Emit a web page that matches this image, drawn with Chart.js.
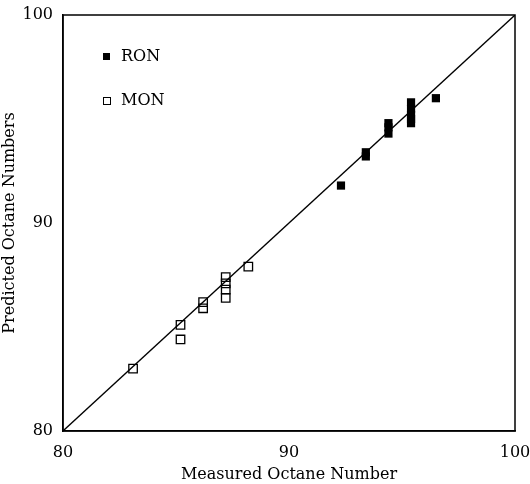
<!DOCTYPE html>
<html>
<head>
<meta charset="utf-8">
<script src="https://cdn.jsdelivr.net/npm/chart.js@4"></script>
<style>
body{margin:0;background:#fff;}
#wrap{width:530px;height:484px;}
</style>
</head>
<body>
<div id="wrap"><canvas id="octaneChart" width="530" height="484"></canvas></div>
<script>
// measured vs predicted octane numbers
let ronMeasured = [92.3, 93.4, 93.4, 94.4, 94.4, 94.4, 95.4, 95.4, 95.4, 95.4, 95.4, 96.5];
let ronPredicted = [91.8, 93.2, 93.4, 94.3, 94.6, 94.8, 94.8, 95.0, 95.2, 95.5, 95.8, 96.0];
let monMeasured = [83.1, 85.2, 85.2, 86.2, 86.2, 87.2, 87.2, 87.2, 87.2, 88.2];
let monPredicted = [83.0, 84.4, 85.1, 85.9, 86.2, 86.4, 86.8, 87.1, 87.4, 87.9];
let diagonal = [80, 100];
let tickValues = [80, 90, 100];

function toPoints(xs, ys){
let pts = [];
for(let i = 0; i < xs.length; i++){
pts.push({x:xs[i], y:ys[i]});
}
return pts;
}

const serif = "'DejaVu Serif', 'Liberation Serif', serif";

const frame = {
id:'frame',
afterDraw(chart){
let a = chart.chartArea;
let ctx = chart.ctx;
ctx.save();
ctx.strokeStyle = '#000';
ctx.lineWidth = 1.5;
ctx.strokeRect(a.left, a.top, a.right - a.left, a.bottom - a.top);
// legend
ctx.fillStyle = '#000';
ctx.fillRect(103, 53, 7, 7);
ctx.lineWidth = 1;
ctx.strokeRect(103.5, 97.5, 7, 7);
ctx.font = "16px " + serif;
ctx.textBaseline = 'middle';
ctx.fillText('RON', 121, 57);
ctx.fillText('MON', 121, 101);
ctx.restore();
}
};

new Chart(document.getElementById('octaneChart'),{
type:'scatter',
data:{
datasets:[{
label:'RON',
data:toPoints(ronMeasured, ronPredicted),
pointStyle:'rect',
pointRadius:5.8,
backgroundColor:'#000',
borderColor:'#000',
borderWidth:0
},{
label:'MON',
data:toPoints(monMeasured, monPredicted),
pointStyle:'rect',
pointRadius:6,
backgroundColor:'rgba(255,255,255,0)',
borderColor:'#000',
borderWidth:1.3
},{
label:'fit',
type:'line',
data:toPoints(diagonal, diagonal),
borderColor:'#000',
borderWidth:1.3,
pointRadius:0,
fill:false
}]
},
options:{
responsive:false,
animation:false,
layout:{padding:{top:15, right:15, left:0, bottom:0}},
plugins:{legend:{display:false}, tooltip:{enabled:false}},
scales:{
x:{
type:'linear',
min:80, max:100,
afterBuildTicks(s){ s.ticks = tickValues.map(v => ({value:v})); },
afterFit(s){ s.height = 53; s.paddingLeft = 0; s.paddingRight = 0; },
grid:{display:false},
border:{display:true, color:'#000', width:1.5},
ticks:{color:'#000', padding:4, font:{family:serif, size:16}},
title:{display:true, text:'Measured Octane Number', color:'#000', font:{family:serif, size:16}, padding:{top:2, bottom:0}}
},
y:{
type:'linear',
min:80, max:100,
afterBuildTicks(s){ s.ticks = tickValues.map(v => ({value:v})); },
afterFit(s){ s.width = 63; s.paddingTop = 0; s.paddingBottom = 0; },
grid:{display:false},
border:{display:true, color:'#000', width:1.5},
ticks:{color:'#000', padding:2, font:{family:serif, size:16}},
title:{display:true, text:'Predicted Octane Numbers', color:'#000', font:{family:serif, size:16}, padding:{top:0, bottom:2}}
}
}
},
plugins:[frame]
});
</script>
</body>
</html>
